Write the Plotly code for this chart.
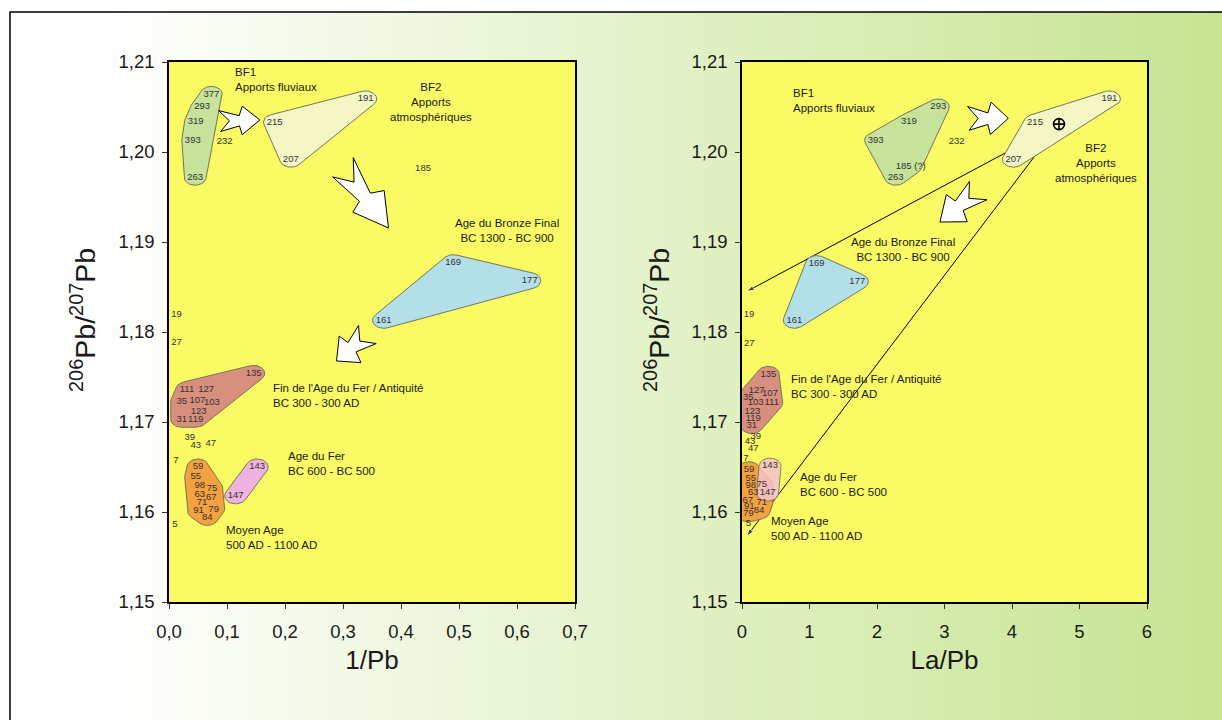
import numpy as np
import plotly.graph_objects as go

FIG_W, FIG_H = 1222, 720
FONT = "Liberation Sans, Arial, sans-serif"

# ---------------------------------------------------------------- data
samples = ["377", "293", "319", "393", "263", "232", "215", "191", "207", "185",
           "169", "177", "161", "19", "27", "135", "111", "127", "35", "107",
           "103", "123", "31", "119", "39", "43", "47", "7", "59", "55",
           "98", "75", "63", "67", "71", "91", "79", "84", "5", "143", "147"]

# 206Pb/207Pb as read on the 1/Pb diagram
ratio_206_207 = [1.2064, 1.2050, 1.2034, 1.2013, 1.1972, 1.2011, 1.2033, 1.2059, 1.1992, 1.1982,
                 1.1877, 1.1857, 1.1813, 1.1819, 1.1788, 1.1754, 1.1736, 1.1736, 1.1723, 1.1724,
                 1.1721, 1.1712, 1.1703, 1.1703, 1.1683, 1.1674, 1.1676, 1.1657, 1.1650, 1.1639,
                 1.1629, 1.1626, 1.1619, 1.1616, 1.1610, 1.1601, 1.1603, 1.1594, 1.1586, 1.1650,
                 1.1618]

# 206Pb/207Pb as read on the La/Pb diagram
ratio_206_207_la = [None, 1.2050, 1.2034, 1.2013, 1.1972, 1.2011, 1.2033, 1.2059, 1.1992, 1.1984,
                    1.1876, 1.1856, 1.1813, 1.1819, 1.1787, 1.1753, 1.1721, 1.1735, 1.1727, 1.1731,
                    1.1721, 1.1712, 1.1696, 1.1704, 1.1684, 1.1678, 1.1670, 1.1659, 1.1647, 1.1637,
                    1.1629, 1.1630, 1.1621, 1.1613, 1.1610, 1.1606, 1.1598, 1.1601, 1.1587, 1.1651,
                    1.1621]

inv_pb = [0.073, 0.057, 0.046, 0.041, 0.045, 0.096, 0.182, 0.339, 0.210, 0.438,
          0.490, 0.622, 0.370, 0.013, 0.013, 0.146, 0.031, 0.064, 0.022, 0.049,
          0.074, 0.051, 0.022, 0.046, 0.036, 0.046, 0.072, 0.012, 0.050, 0.046,
          0.053, 0.074, 0.053, 0.073, 0.057, 0.051, 0.077, 0.066, 0.010, 0.152,
          0.115]

la_pb = [None, 2.908, 2.474, 1.980, 2.277, 3.180, 4.341, 5.442, 4.020, 2.500,
         1.106, 1.708, 0.775, 0.104, 0.108, 0.390, 0.440, 0.218, 0.093, 0.415,
         0.203, 0.153, 0.144, 0.167, 0.203, 0.119, 0.167, 0.059, 0.104, 0.129,
         0.129, 0.292, 0.167, 0.084, 0.292, 0.108, 0.093, 0.252, 0.093, 0.415,
         0.380]

uncertain_samples = ["185"]

# mean of the atmospheric end-member (BF2) and the ends of the mixing lines
bf2_mean_la_pb = 4.696
bf2_mean_ratio = 1.2031
mixing_end_la_pb = [0.07, 0.07]
mixing_end_ratio = [1.1845, 1.1573]

period_keys = ["BF1", "BF2", "Bronze", "FinFer", "MoyenAge", "Fer"]
period_text = {
    "BF1": "BF1<br>Apports fluviaux",
    "BF2": "BF2<br>Apports<br>atmosphériques",
    "Bronze": "Age du Bronze Final<br>BC 1300 - BC 900",
    "FinFer": "Fin de l'Age du Fer / Antiquité<br>BC 300 - 300 AD",
    "Fer": "Age du Fer<br>BC 600 - BC 500",
    "MoyenAge": "Moyen Age<br>500 AD - 1100 AD",
}
members_inv_pb = {
    "BF1": ["377", "293", "319", "393", "263"],
    "BF2": ["215", "191", "207"],
    "Bronze": ["169", "177", "161"],
    "FinFer": ["135", "111", "127", "35", "107", "103", "123", "31", "119"],
    "MoyenAge": ["59", "55", "98", "75", "63", "67", "71", "91", "79", "84"],
    "Fer": ["143", "147"],
}
members_la_pb = {
    "BF1": ["293", "319", "393", "185", "263"],
    "BF2": ["215", "191", "207"],
    "Bronze": ["169", "177", "161"],
    "FinFer": ["135", "111", "127", "35", "107", "103", "123", "31", "119"],
    "MoyenAge": ["59", "55", "98", "63", "67", "91", "79", "84", "71", "75"],
    "Fer": ["143", "147"],
}

# ---------------------------------------------------------------- styling
fill_left = {"BF1": "#c6e29b", "BF2": "#f4f6c6", "Bronze": "#b3dfe9",
             "FinFer": "#d98f7e", "MoyenAge": "#f4a140", "Fer": "#eeb3de"}
fill_right = {"BF1": "#c6e29b", "BF2": "#f4f6c6", "Bronze": "#b3dfe9",
              "FinFer": "#d98f7e", "MoyenAge": "#f4a140", "Fer": "#f4c2cc"}
OUTLINE = "#75755a"
PLOT_BG = "#fafa64"

X1_RANGE = (0.0, 0.7)
X2_RANGE = (0.0, 6.0)
Y_RANGE = (1.15, 1.21)

# subplot boxes in pixels (left, right, top, bottom)
BOX1 = (169, 575, 62, 602)
BOX2 = (742, 1147, 62, 602)

sx1 = (BOX1[1] - BOX1[0]) / (X1_RANGE[1] - X1_RANGE[0])
sx2 = (BOX2[1] - BOX2[0]) / (X2_RANGE[1] - X2_RANGE[0])
sy = (BOX1[3] - BOX1[2]) / (Y_RANGE[1] - Y_RANGE[0])


def dom_x(box):
    return [box[0] / FIG_W, box[1] / FIG_W]


def dom_y(box):
    return [1 - box[3] / FIG_H, 1 - box[2] / FIG_H]


def convex_hull(pts):
    pts = sorted(set(pts))
    if len(pts) < 3:
        return pts

    def cross(o, a, b):
        return (a[0] - o[0]) * (b[1] - o[1]) - (a[1] - o[1]) * (b[0] - o[0])

    lower, upper = [], []
    for p in pts:
        while len(lower) >= 2 and cross(lower[-2], lower[-1], p) <= 0:
            lower.pop()
        lower.append(p)
    for p in reversed(pts):
        while len(upper) >= 2 and cross(upper[-2], upper[-1], p) <= 0:
            upper.pop()
        upper.append(p)
    return lower[:-1] + upper[:-1]


def envelope(xs, ys, sx, sy_, rx=11.0, ry=8.0):
    """Rounded hull around a group of samples, padded by an ellipse in screen units."""
    ring = np.linspace(0, 2 * np.pi, 40, endpoint=False)
    pts = [(round(x * sx + rx * np.cos(t), 4), round(y * sy_ + ry * np.sin(t), 4))
           for x, y in zip(xs, ys) for t in ring]
    h = convex_hull(pts)
    h.append(h[0])
    return [p[0] / sx for p in h], [p[1] / sy_ for p in h]


# jagged block arrow: (position along the arrow, offset across it)
ARROW_OUTLINE = [(0.0, 0.70), (0.50, 0.32), (0.58, 0.95), (1.0, 0.0),
                 (0.56, -0.95), (0.50, -0.36), (0.04, -0.70), (0.26, 0.0)]


def block_arrow(tail, tip, half_w, sx, sy_):
    p0 = np.array([tail[0] * sx, tail[1] * sy_])
    p1 = np.array([tip[0] * sx, tip[1] * sy_])
    d = p1 - p0
    L = np.hypot(*d)
    e = d / L
    n = np.array([-e[1], e[0]])
    pts = [p0 + u * L * e + v * half_w * n for u, v in ARROW_OUTLINE]
    return "M " + " L ".join(f"{p[0] / sx:.6f},{p[1] / sy_:.6f}" for p in pts) + " Z"


idx = {s: i for i, s in enumerate(samples)}

fig = go.Figure()

# ---------------------------------------------------------------- right panel: mixing lines
for xe, ye in zip(mixing_end_la_pb, mixing_end_ratio):
    fig.add_trace(go.Scatter(
        x=[bf2_mean_la_pb, xe], y=[bf2_mean_ratio, ye], xaxis="x2", yaxis="y2",
        mode="lines+markers", line=dict(color="black", width=1),
        marker=dict(symbol="arrow", size=[0, 8], color="black", angleref="previous"),
        hoverinfo="skip", showlegend=False))

# ---------------------------------------------------------------- envelopes
for key in period_keys:
    names = members_inv_pb[key]
    ex, ey = envelope([inv_pb[idx[s]] for s in names],
                      [ratio_206_207[idx[s]] for s in names], sx1, sy)
    fig.add_trace(go.Scatter(x=ex, y=ey, xaxis="x", yaxis="y", mode="lines",
                             fill="toself", fillcolor=fill_left[key],
                             line=dict(color=OUTLINE, width=1),
                             hoverinfo="skip", showlegend=False))

for key in period_keys:
    names = members_la_pb[key]
    xs = [la_pb[idx[s]] for s in names]
    ys = [ratio_206_207_la[idx[s]] for s in names]
    if key == "BF2":
        xs.append(bf2_mean_la_pb)
        ys.append(bf2_mean_ratio)
    ex, ey = envelope(xs, ys, sx2, sy)
    fig.add_trace(go.Scatter(x=ex, y=ey, xaxis="x2", yaxis="y2", mode="lines",
                             fill="toself", fillcolor=fill_right[key],
                             opacity=0.85 if key == "Fer" else 1.0,
                             line=dict(color=OUTLINE, width=1),
                             hoverinfo="skip", showlegend=False))

# ---------------------------------------------------------------- sample numbers
label_font = dict(family=FONT, size=9.5, color="#333333")
fig.add_trace(go.Scatter(x=inv_pb, y=ratio_206_207, text=samples, mode="text",
                         textposition="middle center", textfont=label_font,
                         xaxis="x", yaxis="y", cliponaxis=False,
                         hoverinfo="skip", showlegend=False))

rx, ry, rt = [], [], []
for s, xv, yv in zip(samples, la_pb, ratio_206_207_la):
    if xv is None:
        continue
    rx.append(xv)
    ry.append(yv)
    rt.append(s + " (?)" if s in uncertain_samples else s)
fig.add_trace(go.Scatter(x=rx, y=ry, text=rt, mode="text",
                         textposition="middle center", textfont=label_font,
                         xaxis="x2", yaxis="y2", cliponaxis=False,
                         hoverinfo="skip", showlegend=False))

fig.add_trace(go.Scatter(x=[bf2_mean_la_pb], y=[bf2_mean_ratio], xaxis="x2", yaxis="y2",
                         mode="markers",
                         marker=dict(symbol="circle-cross-open", size=11, color="black",
                                     line=dict(width=1.6, color="black")),
                         hoverinfo="skip", showlegend=False))

# ---------------------------------------------------------------- background
shapes = []
n_strips = 160
x_start = 10 / FIG_W
c0 = np.array([255, 255, 255])
c1 = np.array([199, 228, 146])
for i in range(n_strips):
    a = x_start + (1 - x_start) * i / n_strips
    b = x_start + (1 - x_start) * (i + 1.2) / n_strips
    t = (i + 0.5) / n_strips
    w = max(0.0, (t - 0.07) / 0.93)
    c = (c0 + (c1 - c0) * w).round().astype(int)
    shapes.append(dict(type="rect", xref="paper", yref="paper", x0=a, x1=min(b, 1.0),
                       y0=0, y1=1 - 12 / FIG_H, layer="below", line=dict(width=0),
                       fillcolor=f"rgb({c[0]},{c[1]},{c[2]})"))
for box in (BOX1, BOX2):
    dx, dy = dom_x(box), dom_y(box)
    shapes.append(dict(type="rect", xref="paper", yref="paper", x0=dx[0], x1=dx[1],
                       y0=dy[0], y1=dy[1], layer="below", line=dict(width=0),
                       fillcolor=PLOT_BG))
shapes.append(dict(type="rect", xref="paper", yref="paper", x0=10 / FIG_W, x1=1.05,
                   y0=-0.05, y1=1 - 12 / FIG_H, line=dict(color="black", width=1.5),
                   fillcolor="rgba(0,0,0,0)", layer="above"))

# ---------------------------------------------------------------- block arrows between periods
arrow_spec = [
    ("x", "y", sx1, (0.0859, 1.20344), (0.1566, 1.20356), 15),
    ("x", "y", sx1, (0.2983, 1.19844), (0.3784, 1.19156), 20),
    ("x", "y", sx1, (0.3431, 1.17978), (0.2888, 1.17678), 18),
    ("x2", "y2", sx2, (3.341, 1.20374), (3.945, 1.20374), 17),
    ("x2", "y2", sx2, (3.511, 1.19578), (2.933, 1.19222), 18),
]
for xr, yr, sx, tail, tip, hw in arrow_spec:
    shapes.append(dict(type="path", xref=xr, yref=yr,
                       path=block_arrow(tail, tip, hw, sx, sy),
                       fillcolor="white", line=dict(color="black", width=1),
                       layer="above"))

# ---------------------------------------------------------------- period labels
group_font = dict(family=FONT, size=11.5, color="#1a1a1a")
label_pos_left = {
    "BF1": (0.1095, 1.20806, "left"),
    "BF2": (0.4509, 1.20556, "center"),
    "Bronze": (0.5819, 1.19133, "center"),
    "FinFer": (0.175, 1.17289, "left"),
    "Fer": (0.2009, 1.16541, "left"),
    "MoyenAge": (0.0945, 1.15722, "left"),
}
label_pos_right = {
    "BF1": (0.726, 1.20569, "left"),
    "BF2": (5.242, 1.19874, "center"),
    "Bronze": (2.390, 1.18922, "center"),
    "FinFer": (0.696, 1.17389, "left"),
    "Fer": (0.834, 1.16306, "left"),
    "MoyenAge": (0.404, 1.15822, "left"),
}
annotations = []
for pos, xr, yr in ((label_pos_left, "x", "y"), (label_pos_right, "x2", "y2")):
    for key, (xv, yv, anchor) in pos.items():
        annotations.append(dict(x=xv, y=yv, xref=xr, yref=yr, text=period_text[key],
                                showarrow=False, xanchor=anchor, yanchor="middle",
                                align=anchor, font=group_font))

# vertical axis titles
ytitle = "<sup>206</sup>Pb/<sup>207</sup>Pb"
ytitle_font = dict(family=FONT, size=28.5, color="#1a1a1a")
for xpix in (83, 657):
    annotations.append(dict(x=xpix / FIG_W, y=1 - 320 / FIG_H, xref="paper", yref="paper",
                            text=ytitle, textangle=-90, showarrow=False,
                            xanchor="center", yanchor="middle", font=ytitle_font))

# ---------------------------------------------------------------- axes
tick_font = dict(family=FONT, size=18.5, color="#1a1a1a")
xtitle_font = dict(family=FONT, size=26, color="#1a1a1a")
common = dict(showgrid=False, zeroline=False, showline=True, linecolor="black",
              linewidth=1.5, mirror=True, ticks="outside", ticklen=5,
              tickcolor="#333333", tickwidth=1, tickfont=tick_font, automargin=False)

fig.update_layout(
    template="none",
    width=FIG_W, height=FIG_H, autosize=False,
    margin=dict(l=0, r=0, t=0, b=0, pad=0),
    paper_bgcolor="white", plot_bgcolor="rgba(0,0,0,0)",
    separators=", ",
    showlegend=False,
    shapes=shapes,
    annotations=annotations,
    xaxis=dict(domain=dom_x(BOX1), range=[X1_RANGE[0], X1_RANGE[1] + 1e-7],
               dtick=0.1, tick0=0, tickformat=".1f", anchor="y", ticklabelstandoff=7,
               title=dict(text="1/Pb", font=xtitle_font, standoff=10), **common),
    yaxis=dict(domain=dom_y(BOX1), range=[Y_RANGE[0] - 1e-7, Y_RANGE[1] + 1e-7],
               dtick=0.01, tick0=1.15, tickformat=".2f", anchor="x", ticklabelstandoff=4,
               **common),
    xaxis2=dict(domain=dom_x(BOX2), range=[X2_RANGE[0], X2_RANGE[1] + 1e-6],
                dtick=1, tick0=0, tickformat="d", anchor="y2", ticklabelstandoff=7,
                title=dict(text="La/Pb", font=xtitle_font, standoff=10), **common),
    yaxis2=dict(domain=dom_y(BOX2), range=[Y_RANGE[0] - 1e-7, Y_RANGE[1] + 1e-7],
                dtick=0.01, tick0=1.15, tickformat=".2f", anchor="x2", ticklabelstandoff=4,
                **common),
)

fig.write_html("out.html",
               post_script="document.body.style.margin='0';"
                           "document.documentElement.style.overflow='hidden';")
